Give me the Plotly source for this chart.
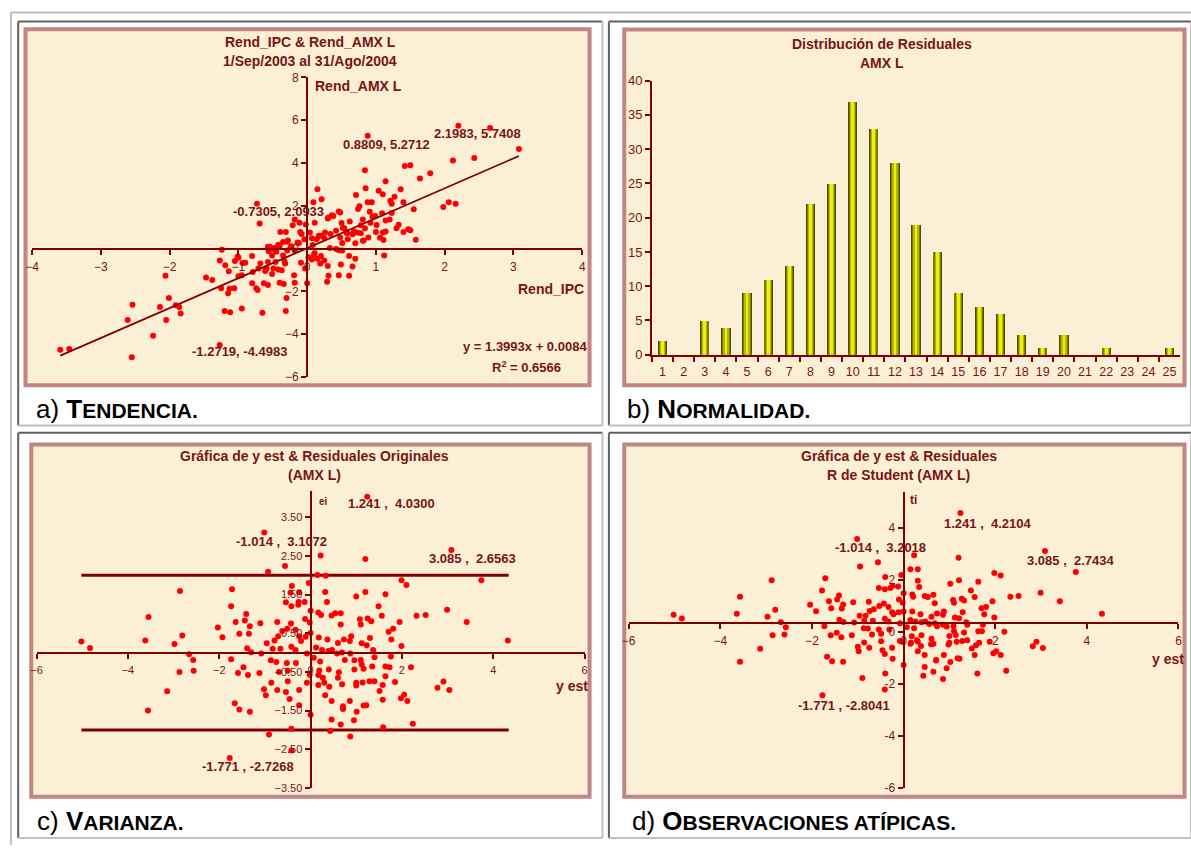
import plotly.graph_objects as go

W, H = 1191, 848

# ---------------- data ----------------
# a) Tendencia: (Rend_IPC, Rend_AMX L)
tend_pts = [
    (2.1983, 5.7408), (2.66, 5.64), (0.8809, 5.2712), (3.08, 4.66), (2.43, 4.24), (2.12, 4.12),
    (0.84, 3.66), (1.42, 3.86), (1.50, 3.90), (1.79, 3.52), (1.64, 3.28), (1.14, 3.15),
    (1.36, 2.77), (1.27, 2.43), (1.04, 2.70), (1.10, 2.54), (0.85, 2.82), (0.71, 2.51),
    (0.15, 2.77), (0.21, 2.31), (0.09, 2.17), (0.88, 2.17), (0.94, 2.17), (1.21, 2.24),
    (1.23, 2.10), (1.40, 2.17), (1.98, 1.94), (2.06, 2.17), (2.16, 2.10), (1.55, 1.84),
    (0.76, 1.98), (0.74, 1.85), (0.91, 1.72), (0.46, 1.73), (0.36, 1.56), (0.30, 1.41),
    (0.95, 1.49), (1.23, 1.67), (1.14, 1.32), (1.20, 1.36), (1.33, 1.12), (1.40, 0.78),
    (1.47, 0.90), (1.50, 0.86), (1.58, 0.41), (1.12, -0.32), (1.11, 0.40), (1.06, 0.51),
    (1.00, 0.78), (1.10, 0.75), (0.92, 1.21), (0.81, 1.36), (0.78, 1.09), (0.84, 0.95),
    (0.73, 0.75), (0.66, 0.67), (0.57, 0.78), (0.52, 0.96), (0.62, 1.27), (0.70, 0.25),
    (0.81, 0.37), (0.89, 0.52), (0.59, 0.44), (0.48, 0.52), (0.42, 0.84), (0.42, -0.02),
    (0.51, -0.09), (0.61, -0.35), (0.70, -0.47), (0.66, -0.83), (0.49, -0.74), (0.46, -1.24),
    (0.61, -1.27), (0.31, -1.27), (0.29, -1.55), (0.30, -0.81), (0.25, -0.55), (0.19, -0.70),
    (0.15, -0.47), (0.10, -0.28), (0.00, -1.62), (-0.03, -0.93), (0.02, -0.40), (0.08, 0.17),
    (0.14, 0.44), (0.20, 0.60), (0.26, 0.75), (0.11, 1.21), (-0.02, 1.13), (0.04, 0.75),
    (-0.04, 0.44), (-0.10, 0.78), (-0.18, 1.36), (-0.11, 1.21), (-0.21, 1.09), (-0.14, 0.29),
    (-0.18, -0.09), (-0.24, 0.06), (-0.29, 0.32), (-0.39, 0.78), (-0.31, 0.78), (-0.40, 0.14),
    (-0.49, -0.02), (-0.54, 0.09), (-0.45, -0.14), (-0.51, -0.32), (-0.57, -0.63), (-0.59, -0.93),
    (-0.51, -1.18), (-0.49, -0.93), (-0.35, -0.32), (-0.32, -0.70), (-0.37, -1.01), (-0.19, -1.24),
    (-0.40, -1.59), (-0.34, -1.65), (-0.18, -1.59), (-0.30, -2.31), (-0.31, -2.92), (-0.57, -1.70),
    (-0.63, -1.62), (-0.65, -3.00), (-0.72, -1.93), (-0.74, -1.85), (-0.79, -1.09), (-0.71, -0.93),
    (-0.68, -0.70), (-0.69, 1.18), (-0.7305, 2.0933), (-0.80, -1.62), (-0.95, -1.24), (-0.95, -2.80),
    (-1.00, -1.29), (-1.05, -0.58), (-1.01, -0.37), (-1.06, -1.85), (-1.13, -1.88), (-1.15, -2.08),
    (-1.14, -1.06), (-1.20, -2.92), (-1.12, -2.97), (-1.19, -0.78), (-1.24, -0.05), (-1.27, -0.55),
    (-1.25, -1.85), (-1.2719, -4.4983), (-1.38, -1.47), (-1.47, -1.35), (-0.94, -0.67), (-0.46, -0.63),
    (-0.57, 0.09), (-0.29, -0.09), (-1.86, -2.73), (-1.84, -3.03), (-1.91, -2.65), (-2.01, -2.31),
    (-2.06, -1.27), (-2.05, -3.34), (-2.14, -2.73), (-2.24, -4.07), (-2.54, -2.62), (-2.61, -3.34),
    (-2.55, -5.07), (-3.46, -4.69), (-3.59, -4.73),
    (0.38, 1.52), (0.48, 1.69), (0.31, 1.45), (0.50, 1.20), (0.99, 1.52), (1.09, 1.65),
    (1.01, 1.11), (1.14, 0.80), (1.30, 0.95), (-0.56, -0.12), (-0.47, 0.03), (-0.42, 0.18),
    (-0.35, 0.31), (-0.28, 0.38), (-0.23, 0.11), (-0.12, 0.26), (-0.08, 0.68), (0.07, 0.49),
    (0.17, 0.60), (0.25, 0.49), (0.34, 0.68), (0.54, 0.95), (0.58, 0.72), (0.68, 0.80),
    (0.78, 0.72), (0.82, 0.38), (0.46, -0.08), (0.51, 0.26), (0.33, 0.03), (0.20, -0.35),
    (0.11, -0.20), (0.07, -0.51), (-0.09, -0.66), (-0.33, -0.58), (-0.42, -0.97), (-0.61, -1.05),
    (-0.80, -0.35), (-0.90, -0.66), (-1.00, -0.43),
]
trend_x = [-3.59, 3.08]
trend_y = [-5.00, 4.33]

# b) Distribución de residuales
resid_bins = [str(i) for i in range(1, 26)]
resid_counts = [2, 0, 5, 4, 9, 11, 13, 22, 25, 37, 33, 28, 19, 15, 9, 7, 6, 3, 1, 3, 0, 1, 0, 0, 1]

# c) y est vs residuales originales
var_pts = [
    (1.241, 4.03), (-1.014, 3.1072), (3.085, 2.6563), (0.22, 2.51), (1.20, 2.42), (-0.56, 2.24),
    (-0.93, 2.09), (0.15, 2.01), (0.33, 1.99), (1.99, 1.87), (2.10, 1.75), (3.74, 1.87),
    (-0.04, 1.80), (-0.41, 1.72), (-1.72, 1.64), (-2.86, 1.59), (-0.44, 1.55), (0.32, 1.57),
    (1.20, 1.57), (1.64, 1.51), (1.00, 1.45), (-0.25, 1.56), (-0.54, 1.30), (-0.26, 1.31),
    (-0.13, 1.31), (0.36, 1.31), (-0.27, 1.24), (-0.42, 1.20), (-1.74, 1.20), (1.49, 1.20),
    (2.99, 1.11), (0.00, 1.08), (0.17, 1.04), (0.23, 0.97), (0.54, 1.02), (0.66, 1.02),
    (0.46, 0.96), (1.56, 0.95), (2.32, 0.95), (2.52, 0.97), (-1.41, 1.00), (-3.55, 0.92),
    (1.08, 0.86), (1.25, 0.88), (1.33, 0.81), (3.42, 0.79), (1.95, 0.79), (-0.12, 0.87),
    (-1.44, 0.83), (-1.64, 0.79), (-1.10, 0.76), (-0.73, 0.79), (-0.43, 0.75), (-0.02, 0.78),
    (0.66, 0.73), (1.10, 0.73), (-1.33, 0.68), (-2.03, 0.65), (1.81, 0.62), (1.71, 0.54),
    (-0.51, 0.62), (-0.33, 0.59), (-0.62, 0.56), (-1.56, 0.49), (-1.35, 0.49), (0.00, 0.51),
    (-2.81, 0.44), (-1.93, 0.40), (-0.71, 0.42), (-0.25, 0.42), (-0.11, 0.41), (0.18, 0.39),
    (0.89, 0.42), (1.30, 0.38), (1.77, 0.34), (-0.79, 0.31), (-0.21, 0.30), (0.37, 0.34),
    (0.73, 0.34), (0.86, 0.30), (0.60, 0.25), (1.12, 0.24), (1.23, 0.19), (1.99, 0.17),
    (4.32, 0.31), (-3.62, 0.31), (-5.02, 0.29), (-4.83, 0.12), (-2.98, 0.22), (-0.96, 0.24),
    (-0.42, 0.15), (-1.39, 0.11), (-0.83, 0.10), (-0.66, 0.10), (-0.33, 0.07), (0.12, 0.13),
    (0.25, 0.07), (0.39, 0.04), (0.47, 0.07), (0.58, -0.02), (0.69, 0.00), (0.87, -0.02),
    (1.37, 0.07), (-2.66, -0.04), (-1.30, 0.01), (-1.08, -0.02), (-0.08, -0.02), (0.07, -0.13),
    (-2.57, -0.19), (-1.74, -0.17), (-0.87, -0.20), (-0.75, -0.24), (-0.52, -0.27), (-0.32, -0.27),
    (0.21, -0.23), (0.75, -0.19), (0.96, -0.20), (1.10, -0.19), (1.40, -0.12), (1.76, -0.10),
    (1.12, -0.31), (1.35, -0.36), (1.64, -0.36), (1.73, -0.38), (2.20, -0.38), (-1.47, -0.38),
    (-2.87, -0.50), (-2.56, -0.47), (-1.59, -0.53), (-1.37, -0.58), (-1.12, -0.53), (-0.69, -0.50),
    (-0.50, -0.47), (-0.02, -0.57), (0.19, -0.46), (0.40, -0.44), (0.62, -0.51), (0.96, -0.44),
    (1.16, -0.42), (1.64, -0.61), (0.17, -0.58), (0.27, -0.65), (0.60, -0.65), (-0.50, -0.74),
    (-0.86, -0.78), (-0.08, -0.78), (0.30, -0.78), (1.00, -0.78), (1.14, -0.77), (1.29, -0.74),
    (1.40, -0.74), (1.85, -0.76), (1.58, -0.84), (1.00, -0.85), (0.17, -0.84), (0.41, -0.88),
    (0.69, -0.82), (2.78, -0.91), (2.91, -0.75), (3.04, -0.97), (-3.14, -1.00), (-1.02, -0.95),
    (-0.73, -0.97), (-0.25, -0.97), (1.51, -0.99), (-0.54, -1.02), (-0.98, -1.10), (0.32, -1.10),
    (2.05, -1.09), (1.98, -1.18), (2.12, -1.25), (-0.46, -1.20), (1.58, -1.22), (0.46, -1.25),
    (0.86, -1.25), (-1.66, -1.31), (-0.25, -1.36), (0.71, -1.39), (0.71, -1.46), (1.16, -1.37),
    (1.22, -1.36), (-1.56, -1.47), (-1.33, -1.53), (-3.56, -1.50), (1.01, -1.53), (0.00, -1.61),
    (0.46, -1.73), (0.95, -1.75), (0.66, -1.86), (2.24, -1.84), (1.59, -1.93), (-0.42, -1.97),
    (0.43, -2.03), (-0.91, -2.12), (0.87, -2.17), (-0.42, -2.53), (-1.771, -2.7268),
]
band_x = [-5.02, 4.34]
band_hi = [2.0, 2.0]
band_lo = [-2.0, -2.0]
var_ytick = [-3.5, -2.5, -1.5, -0.5, 0.5, 1.5, 2.5, 3.5]

# d) y est vs residuales R de Student
stud_pts = [
    (1.241, 4.2104), (-1.014, 3.2018), (3.085, 2.7434), (0.23, 2.58), (1.20, 2.48), (-0.56, 2.31),
    (-0.95, 2.15), (0.15, 2.04), (0.31, 2.04), (3.76, 1.94), (1.98, 1.90), (2.12, 1.80),
    (-0.05, 1.82), (-0.40, 1.74), (-1.71, 1.70), (-2.88, 1.62), (0.31, 1.60), (1.21, 1.62),
    (1.63, 1.56), (1.02, 1.48), (-0.24, 1.41), (-0.54, 1.32), (-0.29, 1.32), (-0.12, 1.38),
    (0.34, 1.36), (-0.41, 1.27), (-1.78, 1.22), (1.47, 1.22), (2.99, 1.14), (0.00, 1.12),
    (0.19, 1.07), (0.21, 0.98), (0.46, 1.01), (0.65, 1.06), (0.53, 0.97), (1.55, 0.97),
    (2.33, 0.98), (2.51, 1.01), (-1.41, 1.03), (-3.57, 0.98), (1.08, 0.86), (1.27, 0.91),
    (1.32, 0.84), (3.41, 0.81), (1.94, 0.81), (-0.10, 0.88), (-1.45, 0.88), (-1.63, 0.81),
    (-1.10, 0.77), (-0.76, 0.79), (-0.43, 0.72), (-0.02, 0.75), (0.68, 0.73), (1.10, 0.75),
    (-1.32, 0.69), (-2.04, 0.68), (1.80, 0.59), (1.70, 0.54), (-0.53, 0.63), (-0.33, 0.59),
    (-0.65, 0.50), (-1.58, 0.54), (-1.35, 0.53), (0.00, 0.42), (-2.80, 0.48), (-1.91, 0.43),
    (-0.74, 0.44), (-0.25, 0.39), (-0.11, 0.39), (0.19, 0.42), (0.88, 0.42), (1.29, 0.39),
    (1.76, 0.31), (-0.83, 0.25), (-0.22, 0.31), (0.37, 0.31), (0.73, 0.34), (0.86, 0.29),
    (0.61, 0.21), (1.12, 0.19), (1.21, 0.16), (1.98, 0.19), (4.33, 0.33), (-3.64, 0.33),
    (-5.02, 0.29), (-4.84, 0.15), (-2.97, 0.21), (-0.96, 0.25), (-0.41, 0.14), (-1.40, 0.10),
    (-0.86, 0.06), (-0.67, 0.06), (-0.33, 0.03), (0.15, 0.09), (0.26, 0.03), (0.39, 0.00),
    (0.47, 0.03), (0.56, -0.06), (0.68, -0.04), (0.86, -0.09), (1.37, 0.00), (-2.68, 0.00),
    (-1.31, 0.01), (-1.08, -0.01), (-0.08, -0.04), (0.07, -0.19), (-2.57, -0.19), (-1.73, -0.15),
    (-0.87, -0.23), (-0.78, -0.24), (-0.54, -0.28), (-0.31, -0.28), (0.23, -0.23), (0.73, -0.15),
    (0.94, -0.16), (1.09, -0.15), (1.39, -0.09), (1.73, -0.09), (1.10, -0.34), (1.32, -0.39),
    (1.63, -0.34), (1.71, -0.34), (2.20, -0.36), (-1.46, -0.40), (-2.86, -0.50), (-2.60, -0.47),
    (-1.59, -0.50), (-1.36, -0.57), (-1.13, -0.50), (-0.69, -0.47), (-0.49, -0.44), (-0.03, -0.75),
    (0.18, -0.54), (0.39, -0.50), (0.61, -0.63), (1.00, -0.53), (1.14, -0.49), (1.65, -0.79),
    (0.16, -0.79), (0.29, -0.69), (0.60, -0.84), (-0.49, -0.73), (-0.86, -0.78), (-0.08, -0.72),
    (0.31, -0.75), (1.00, -0.79), (1.16, -0.75), (1.28, -0.72), (1.39, -0.69), (1.88, -0.75),
    (1.58, -0.88), (0.98, -0.85), (0.15, -0.82), (0.38, -0.91), (0.65, -0.82), (2.82, -0.92),
    (2.90, -0.75), (3.04, -0.99), (-3.13, -1.02), (-1.00, -0.94), (-0.75, -0.98), (-0.25, -0.98),
    (1.49, -1.01), (-0.46, -1.07), (-0.98, -1.11), (0.31, -1.11), (2.02, -1.11), (1.96, -1.19),
    (2.12, -1.26), (-0.41, -1.22), (1.55, -1.26), (0.46, -1.26), (0.88, -1.26), (-1.67, -1.32),
    (-0.24, -1.40), (0.71, -1.45), (0.71, -1.47), (1.18, -1.38), (1.22, -1.40), (-1.56, -1.50),
    (-1.32, -1.52), (-3.57, -1.52), (1.02, -1.53), (0.00, -1.64), (0.46, -1.72), (0.94, -1.77),
    (0.65, -1.90), (2.24, -1.86), (1.61, -1.97), (-0.40, -1.97), (0.43, -2.05), (-0.90, -2.14),
    (0.86, -2.18), (-0.41, -2.58), (-1.771, -2.8041),
]
stud_tickvals = [-6.37, -4.37, -2.37, -0.37, 1.63, 3.63]
stud_ticktext = ["-6", "-4", "-2", "0", "2", "4"]

# ---------------- styling ----------------
FONT = "Arial, 'Liberation Sans', sans-serif"
TXT = "#7A1414"
AX = "#800000"
PT = "#FF0000"
BG = "#FBF0D6"
PINK = "#C28484"
LGRAY = "#C0C0C0"
DGRAY = "#606060"


def px(x):
    return min(1.0, max(0.0, x / W))


def py(y):
    return min(1.0, max(0.0, 1 - y / H))


def pxu(x):
    return x / W


def pyu(y):
    return 1 - y / H


fig = go.Figure()

# a) scatter + trend
fig.add_trace(go.Scatter(x=[p[0] for p in tend_pts], y=[p[1] for p in tend_pts], mode="markers",
                         marker=dict(color=PT, size=6), xaxis="x", yaxis="y", cliponaxis=False))
fig.add_trace(go.Scatter(x=trend_x, y=trend_y, mode="lines", line=dict(color=AX, width=1.8),
                         xaxis="x", yaxis="y"))

# b) bars (layered to imitate the cylinder gradient)
for w, c in [(0.44, "#4A4A00"), (0.36, "#7C7C00"), (0.25, "#B8B800"), (0.13, "#EEEE10")]:
    fig.add_trace(go.Bar(x=resid_bins, y=resid_counts, width=w, marker=dict(color=c, line=dict(width=0)),
                         xaxis="x2", yaxis="y2"))

# c) residuals
fig.add_trace(go.Scatter(x=band_x, y=band_hi, mode="lines", line=dict(color=AX, width=3), xaxis="x3", yaxis="y3"))
fig.add_trace(go.Scatter(x=band_x, y=band_lo, mode="lines", line=dict(color=AX, width=3), xaxis="x3", yaxis="y3"))
fig.add_trace(go.Scatter(x=[p[0] for p in var_pts], y=[p[1] for p in var_pts], mode="markers",
                         marker=dict(color=PT, size=6), xaxis="x3", yaxis="y3", cliponaxis=False))

# d) studentized
fig.add_trace(go.Scatter(x=[p[0] for p in stud_pts], y=[p[1] for p in stud_pts], mode="markers",
                         marker=dict(color=PT, size=6), xaxis="x4", yaxis="y4", cliponaxis=False))

common = dict(showgrid=False, zeroline=False, showline=True, linecolor=AX, linewidth=2,
              ticks="outside", ticklen=5, tickwidth=1.5, tickcolor=AX, layer="above traces")

fig.update_layout(
    width=W, height=H, autosize=False, margin=dict(l=0, r=0, t=0, b=0),
    paper_bgcolor="white", plot_bgcolor="rgba(0,0,0,0)", showlegend=False,
    barmode="overlay", bargap=0, hovermode=False,
    font=dict(family=FONT, color=TXT),
    xaxis=dict(domain=[px(25.3), px(580.6)], range=[-4, 4], dtick=1, anchor="free", position=py(246.3),
               tickfont=dict(size=12, color=TXT), ticklabelstandoff=2, **common),
    yaxis=dict(domain=[py(376.7), py(71.7)], range=[-6, 8], dtick=2, anchor="free", position=px(303),
               tickfont=dict(size=12, color=TXT), **common),
    xaxis2=dict(domain=[px(651), px(1184)], type="category", range=[-0.5, 24.5], anchor="y2",
                tickson="boundaries", tickangle=0, tickfont=dict(size=12.5, color=TXT),
                ticklabelstandoff=4, **common),
    yaxis2=dict(domain=[py(354), py(75)], range=[0, 40], dtick=5, anchor="x2",
                tickfont=dict(size=13, color=TXT), **common),
    xaxis3=dict(domain=[px(29.9), px(582.9)], range=[-6, 6], dtick=2, anchor="free", position=py(657.7),
                tickfont=dict(size=11, color=TXT), ticklabelstandoff=2, **common),
    yaxis3=dict(domain=[py(795), py(492.7)], range=[-3.5, 4.18], tickvals=var_ytick, tickformat=".2f",
                anchor="free", position=px(306.4), tickfont=dict(size=11, color=TXT), **common),
    xaxis4=dict(domain=[px(627.5), px(1182.4)], range=[-6, 6], dtick=2, anchor="free", position=py(626.7),
                tickfont=dict(size=12, color=TXT), ticklabelstandoff=2, **common),
    yaxis4=dict(domain=[py(795), py(493.3)], range=[-6.37, 5.03], tickvals=stud_tickvals,
                ticktext=stud_ticktext, anchor="free", position=px(905),
                tickfont=dict(size=12, color=TXT), **common),
)

shapes = []


def hline(y, x0, x1, color, w=2):
    shapes.append(dict(type="line", xref="paper", yref="paper", x0=pxu(x0), x1=pxu(x1), y0=pyu(y), y1=pyu(y),
                       line=dict(color=color, width=w), layer="below"))


def vline(x, y0, y1, color, w=2):
    shapes.append(dict(type="line", xref="paper", yref="paper", x0=pxu(x), x1=pxu(x), y0=pyu(y0), y1=pyu(y1),
                       line=dict(color=color, width=w), layer="below"))


# table borders
hline(5.7, 4, W + 5, LGRAY)
vline(4, 5, H + 5, LGRAY)
for (l, t, r, b) in [(11.3, 14.7, 601, 426), (607.5, 14.7, 1195, 426),
                     (11.3, 433.3, 601, 846), (607.5, 433.3, 1195, 846)]:
    hline(t, l, r, DGRAY)
    vline(l, t, b, DGRAY)
    hline(b, l, r, LGRAY)
    vline(r, t, b, LGRAY)

# chart areas
for (l, t, r, b) in [(18.7, 22.7, 588, 385), (623, 23, 1188.5, 385),
                     (24.5, 445.3, 588, 804), (623, 445.3, 1188.5, 804)]:
    shapes.append(dict(type="rect", xref="paper", yref="paper", x0=pxu(l), x1=pxu(r), y0=pyu(b), y1=pyu(t),
                       fillcolor=BG, line=dict(color=PINK, width=4), layer="below"))
fig.update_layout(shapes=shapes)

ann = []


def label(text, x, y, size=13, bold=True, xanchor="center", color=TXT):
    ann.append(dict(text=("<b>%s</b>" % text) if bold else text, x=pxu(x), y=pyu(y), xref="paper",
                    yref="paper", showarrow=False, xanchor=xanchor, yanchor="middle",
                    font=dict(size=size, color=color, family=FONT)))


NB = "\u00a0"
# titles
label("Rend_IPC & Rend_AMX L", 306, 36, 14)
label("1/Sep/2003 al 31/Ago/2004", 306, 55, 14)
label("Distribución de Residuales", 883, 38, 14)
label("AMX L", 883, 57, 14)
label("Gráfica de y est & Residuales Originales", 310, 457, 14)
label("(AMX L)", 310, 476.5, 14)
label("Gráfica de y est & Residuales", 900, 457, 14)
label("R de Student (AMX L)", 900, 476.5, 14)
# axis titles
label("Rend_AMX L", 309, 80, 14, xanchor="left")
label("Rend_IPC", 549.5, 287, 14)
label("ei", 319, 503, 10)
label("y est", 570, 691.7, 14)
label("ti", 914.7, 501.7, 12)
label("y est", 1172, 663.7, 14)
# point labels
label("0.8809, 5.2712", 383.5, 140)
label("2.1983, 5.7408", 474.5, 129)
label("-0.7305, 2.0933", 274.5, 208)
label("-1.2719, -4.4983", 235, 351)
label("y = 1.3993x + 0.0084", 522.5, 346)
label("R<sup>2</sup> = 0.6566", 524, 366)
label("1.241 ," + NB + NB + "4.0300", 388.5, 505.7)
label("-1.014 ," + NB + NB + "3.1072", 277.5, 544)
label("3.085 ," + NB + NB + "2.6563", 469.8, 561.7)
label("-1.771 , -2.7268", 243, 773.3)
label("1.241 ," + NB + NB + "4.2104", 990, 526)
label("-1.014 ," + NB + NB + "3.2018", 882, 550.7)
label("3.085 ," + NB + NB + "2.7434", 1074, 563)
label("-1.771 , -2.8041", 845, 710.7)


def caption(first, rest, letter, x, y):
    txt = "%s) <b>%s<span style='font-size:21px'>%s</span></b>" % (letter, first, rest)
    ann.append(dict(text=txt, x=pxu(x), y=pyu(y), xref="paper", yref="paper", showarrow=False,
                    xanchor="left", yanchor="middle", font=dict(size=26, color="black", family=FONT)))


caption("T", "ENDENCIA.", "a", 27, 409)
caption("N", "ORMALIDAD.", "b", 624, 409)
caption("V", "ARIANZA.", "c", 28, 829)
caption("O", "BSERVACIONES ATÍPICAS.", "d", 629, 829)

fig.update_layout(annotations=ann)

fig.write_html("out.html", config={"displayModeBar": False},
               post_script="document.body.style.margin='0';document.body.style.overflow='hidden';")
